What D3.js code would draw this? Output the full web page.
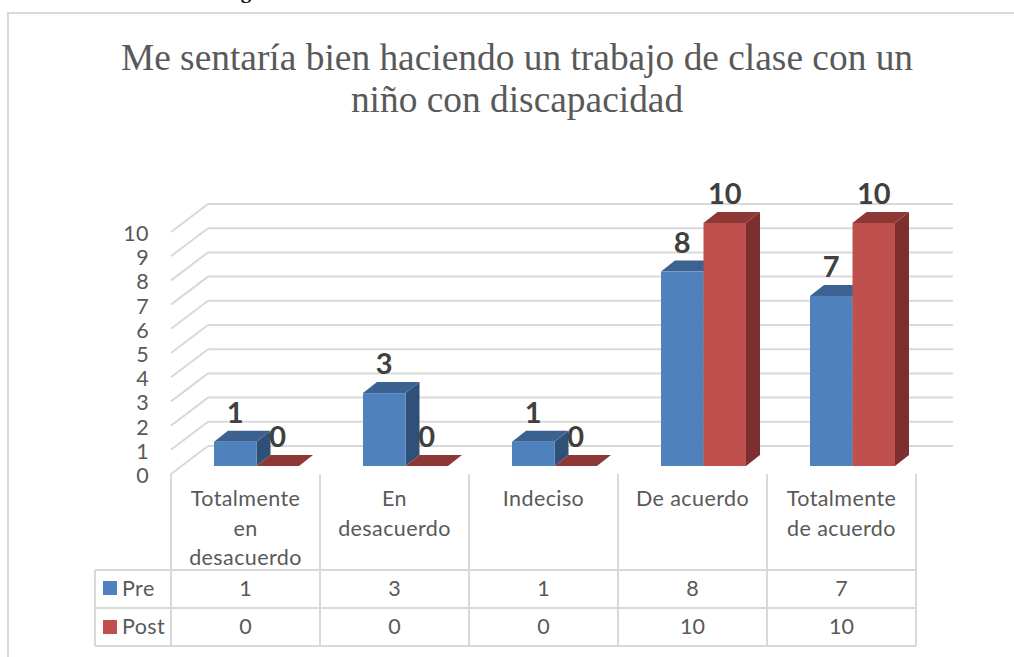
<!DOCTYPE html>
<html>
<head>
<meta charset="utf-8">
<script src="https://cdn.jsdelivr.net/npm/d3@7"></script>
<style>
  html, body { margin: 0; padding: 0; background: #fff; overflow: hidden; }
</style>
</head>
<body>
<div id="chart"></div>
<script>
const categories = ['Totalmente en desacuerdo', 'En desacuerdo', 'Indeciso', 'De acuerdo', 'Totalmente de acuerdo'];
const categoryLines = [['Totalmente', 'en', 'desacuerdo'], ['En', 'desacuerdo'], ['Indeciso'], ['De acuerdo'], ['Totalmente', 'de acuerdo']];
const preValues = [1, 3, 1, 8, 7];
const postValues = [0, 0, 0, 10, 10];
const yTicks = [0, 1, 2, 3, 4, 5, 6, 7, 8, 9, 10];
const titleLines = ['Me sentaría bien haciendo un trabajo de clase con un', 'niño con discapacidad'];

const width = 1014, height = 657;
const sansFont = 'Lato, "Open Sans", sans-serif';
const grid = '#d9d9d9', textColor = '#595959';
const lineW = 2;

const svg = d3.select('#chart').append('svg')
    .attr('width', width)
    .attr('height', height)
    .style('display', 'block');

// Clipped caption letter from the page above the chart
svg.append('text')
    .attr('x', 246).attr('y', -2)
    .attr('text-anchor', 'middle')
    .attr('font-family', '"Liberation Serif", serif')
    .attr('font-weight', 700)
    .attr('font-size', 21)
    .attr('fill', '#111')
    .text('g');

// Chart frame, only left and top are inside the crop
svg.append('path')
    .attr('d', `M8,${height}V13H${width}`)
    .attr('fill', 'none').attr('stroke', grid).attr('stroke-width', lineW);

// Title
svg.append('g').selectAll('text')
    .data(titleLines)
    .enter().append('text')
    .attr('x', 517)
    .attr('y', (d, i) => 69.5 + i * 42)
    .attr('text-anchor', 'middle')
    .attr('font-family', '"Liberation Serif", serif')
    .attr('font-size', 37.4)
    .attr('fill', textColor)
    .text(d => d);

// Scales: front plane, back wall and bar bases sit at different depths
const x = d3.scaleBand().domain(categories).range([171, 916]);
const yFront = d3.scaleLinear().domain([0, 10]).range([474, 232]);
const yBack = d3.scaleLinear().domain([0, 10]).range([446, 204]);
const yBar = d3.scaleLinear().domain([0, 10]).range([466, 223]);
const series = d3.scaleBand().domain(['Pre', 'Post']).range([43, 128]);
const wallX = 208, wallRight = 953;
const depthX = 14, depthY = 11;

// Grid on back wall and side wall
svg.append('g').selectAll('line')
    .data(yTicks)
    .enter().append('line')
    .attr('x1', wallX).attr('x2', wallRight)
    .attr('y1', d => yBack(d)).attr('y2', d => yBack(d))
    .attr('stroke', grid).attr('stroke-width', lineW);
svg.append('g').selectAll('line')
    .data(yTicks)
    .enter().append('line')
    .attr('x1', x.range()[0]).attr('x2', wallX)
    .attr('y1', d => yFront(d)).attr('y2', d => yBack(d))
    .attr('stroke', grid).attr('stroke-width', lineW);

// Y axis labels
svg.append('g').selectAll('text')
    .data(yTicks)
    .enter().append('text')
    .attr('x', 149)
    .attr('y', d => yFront(d) + 9)
    .attr('text-anchor', 'end')
    .attr('font-family', sansFont)
    .attr('font-size', 21.5)
    .attr('letter-spacing', 0.4)
    .attr('fill', textColor)
    .text(d => d);

// 3D bars
function drawBars(name, values, front, side, top) {
    const g = svg.append('g');
    values.forEach((v, i) => {
        const x0 = x(categories[i]) + series(name);
        const x1 = x0 + series.bandwidth();
        const yTop = yBar(v), yBase = yBar(0);
        g.append('path')
            .attr('fill', side)
            .attr('d', `M${x1},${yTop}L${x1 + depthX},${yTop - depthY}L${x1 + depthX},${yBase - depthY}L${x1},${yBase}Z`);
        g.append('path')
            .attr('fill', top)
            .attr('d', `M${x0},${yTop}L${x0 + depthX},${yTop - depthY}L${x1 + depthX},${yTop - depthY}L${x1},${yTop}Z`);
        g.append('rect')
            .attr('x', x0).attr('y', yTop)
            .attr('width', x1 - x0).attr('height', yBase - yTop)
            .attr('fill', front);
    });
}
drawBars('Pre', preValues, '#4f81bd', '#2f5078', '#3c6291');
drawBars('Post', postValues, '#c0504d', '#7c2f2e', '#8e3836');

// Data labels
function drawLabels(name, values) {
    svg.append('g').selectAll('text')
        .data(values)
        .enter().append('text')
        .attr('x', (d, i) => x(categories[i]) + series(name) + series.bandwidth() / 2)
        .attr('y', d => yBar(d) - 19)
        .attr('text-anchor', 'middle')
        .attr('font-family', sansFont)
        .attr('font-weight', 700)
        .attr('font-size', 29)
        .attr('fill', '#404040')
        .text(d => d);
}
drawLabels('Pre', preValues);
drawLabels('Post', postValues);

// Data table
const tableTop = 474, headerBottom = 570, rowH = 38, legendLeft = 95;
const table = svg.append('g').attr('stroke', grid).attr('stroke-width', lineW);
[171, ...categories.map(c => x(c) + x.bandwidth())].forEach(px => {
    table.append('line')
        .attr('x1', px).attr('x2', px)
        .attr('y1', tableTop).attr('y2', headerBottom + rowH * 2);
});
[0, 1, 2].forEach(r => {
    table.append('line')
        .attr('x1', legendLeft).attr('x2', 916)
        .attr('y1', headerBottom + r * rowH).attr('y2', headerBottom + r * rowH);
});
table.append('line')
    .attr('x1', legendLeft).attr('x2', legendLeft)
    .attr('y1', headerBottom).attr('y2', headerBottom + rowH * 2);

// Category headers
categories.forEach((c, i) => {
    svg.append('text')
        .attr('text-anchor', 'middle')
        .attr('font-family', sansFont)
        .attr('font-size', 21.5)
        .attr('letter-spacing', 0.4)
        .attr('fill', textColor)
        .selectAll('tspan')
        .data(categoryLines[i])
        .enter().append('tspan')
        .attr('x', x(c) + x.bandwidth() / 2)
        .attr('y', (d, j) => 506 + j * 29.5)
        .text(d => d);
});

// Table rows with legend keys
[['Pre', preValues, '#4f81bd'], ['Post', postValues, '#c0504d']].forEach(([name, values, color], r) => {
    const rowY = headerBottom + r * rowH;
    svg.append('rect')
        .attr('x', 103).attr('y', rowY + 11 + r)
        .attr('width', 14).attr('height', 14)
        .attr('fill', color);
    svg.append('text')
        .attr('x', 122).attr('y', rowY + 26)
        .attr('font-family', sansFont).attr('font-size', 21.5)
        .attr('letter-spacing', 0.4)
        .attr('fill', textColor)
        .text(name);
    svg.append('g').selectAll('text')
        .data(values)
        .enter().append('text')
        .attr('x', (d, i) => x(categories[i]) + x.bandwidth() / 2)
        .attr('y', rowY + 26)
        .attr('text-anchor', 'middle')
        .attr('font-family', sansFont).attr('font-size', 21.5)
        .attr('fill', textColor)
        .text(d => d);
});
</script>
</body>
</html>
